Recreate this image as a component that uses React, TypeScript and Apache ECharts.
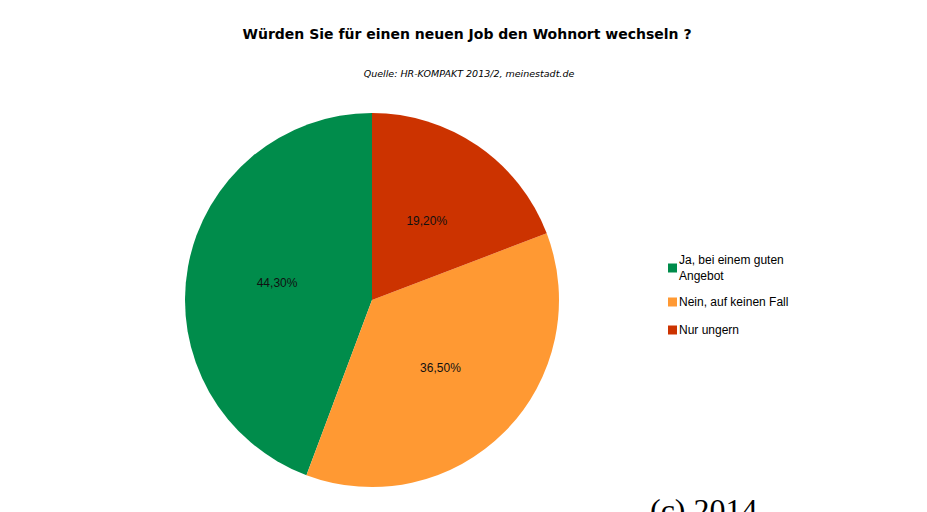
import React, { useEffect, useRef } from "react";
import * as echarts from "echarts";

const categories = ["Ja, bei einem guten\nAngebot", "Nein, auf keinen Fall", "Nur ungern"];
const values = [44.3, 36.5, 19.2];
const colors = ["#008C4B", "#FF9933", "#CC3300"];
const titleText = "Würden Sie für einen neuen Job den Wohnort wechseln ?";
const subtitleText = "Quelle: HR-KOMPAKT 2013/2, meinestadt.de";
const footerText = "(c) 2014";

export default function App() {
  const ref = useRef<HTMLDivElement>(null);
  useEffect(() => {
    document.body.style.margin = "0";
    const chart = echarts.init(ref.current!, null, { renderer: "svg" });
    const legendTops = [247, 289, 317];
    chart.setOption({
      animation: false,
      backgroundColor: "#ffffff",
      title: [
        {
          text: titleText,
          left: 462,
          top: 22,
          textAlign: "center",
          textStyle: { fontFamily: "DejaVu Sans", fontWeight: "bold", fontSize: 14, color: "#000" },
        },
        {
          text: subtitleText,
          left: 464,
          top: 63,
          textAlign: "center",
          textStyle: { fontFamily: "DejaVu Sans", fontStyle: "italic", fontWeight: "normal", fontSize: 9.5, color: "#000" },
        },
      ],
      legend: categories.map((c, i) => ({
        data: [c],
        orient: "vertical",
        left: 663,
        top: legendTops[i],
        icon: "rect",
        itemWidth: 9,
        itemHeight: 9,
        itemGap: 4,
        selectedMode: false,
        textStyle: { fontFamily: "Arial, Liberation Sans", fontSize: 12, color: "#000", lineHeight: 16, padding: [0, 0, 0, -3] },
      })),
      series: [
        {
          type: "pie",
          center: [372, 300],
          radius: 187,
          startAngle: 90,
          clockwise: false,
          data: categories.map((c, i) => ({ name: c, value: values[i], itemStyle: { color: colors[i] } })),
          label: {
            position: "inside",
            formatter: (p: any) => values[p.dataIndex].toFixed(2).replace(".", ",") + "%",
            fontFamily: "Arial, Liberation Sans",
            fontSize: 12,
            color: "#111",
          },
          labelLine: { show: false },
          emphasis: { disabled: true },
        },
      ],
      graphic: [
        {
          type: "text",
          left: 650,
          top: 494,
          style: { text: footerText, fontFamily: "Liberation Serif, Times New Roman, serif", fontSize: 32, fill: "#000" },
        },
      ],
    });
    return () => chart.dispose();
  }, []);
  return <div ref={ref} style={{ width: 927, height: 512 }} />;
}
